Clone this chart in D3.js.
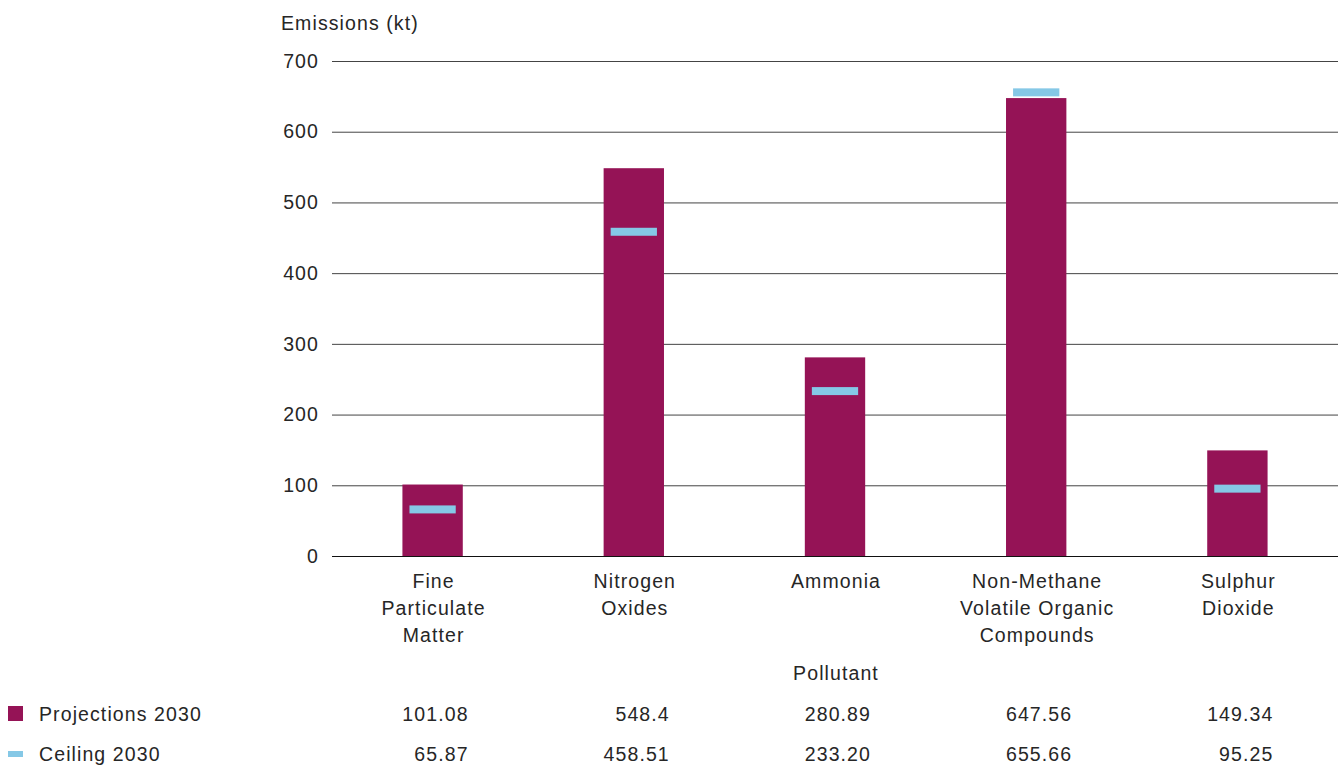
<!DOCTYPE html>
<html>
<head>
<meta charset="utf-8">
<script src="https://cdn.jsdelivr.net/npm/d3@7"></script>
<style>
  body { margin: 0; background: #fff; }
  text { font-family: "Liberation Sans", Arial, sans-serif; fill: #262626; letter-spacing: 1.1px; }
</style>
</head>
<body>
<div id="chart"></div>
<script>
var pollutants = ["Fine Particulate Matter", "Nitrogen Oxides", "Ammonia", "Non-Methane Volatile Organic Compounds", "Sulphur Dioxide"];
var pollutantLines = [["Fine", "Particulate", "Matter"], ["Nitrogen", "Oxides"], ["Ammonia"], ["Non-Methane", "Volatile Organic", "Compounds"], ["Sulphur", "Dioxide"]];
var projections = [101.08, 548.4, 280.89, 647.56, 149.34];
var ceilings = [65.87, 458.51, 233.20, 655.66, 95.25];
var projectionLabels = ["101.08", "548.4", "280.89", "647.56", "149.34"];
var ceilingLabels = ["65.87", "458.51", "233.20", "655.66", "95.25"];
var yTicks = [0, 100, 200, 300, 400, 500, 600, 700];

var W = 1343, H = 765;
var margin = { top: 61, right: 5, bottom: 209, left: 332 };
var width = W - margin.left - margin.right,
    height = H - margin.top - margin.bottom;

var barColor = "#951356", ceilColor = "#85c8e6";
var fs = "19.5px";

var svg = d3.select("#chart").append("svg")
    .attr("width", W).attr("height", H);

var g = svg.append("g")
    .attr("transform", "translate(" + margin.left + "," + margin.top + ")");

var x = d3.scaleBand().domain(pollutants).range([0, width]).padding(0);
var y = d3.scaleLinear().domain([0, 700]).range([height, 0]);

// gridlines + y labels
var yAxis = g.append("g")
    .call(d3.axisLeft(y).tickValues(yTicks).tickSize(0).tickPadding(13));
yAxis.select(".domain").remove();
yAxis.selectAll("text").style("font-size", fs).attr("fill", "#262626")
    .style("font-family", "Liberation Sans, Arial, sans-serif");
g.append("g").selectAll("line")
    .data(yTicks)
    .enter().append("line")
    .attr("x1", 0).attr("x2", width)
    .attr("y1", function(d) { return y(d) + 0.5; })
    .attr("y2", function(d) { return y(d) + 0.5; })
    .attr("stroke", function(d) { return d == 0 ? "#111" : "#444"; })
    .attr("stroke-width", 1);

// bars
var bw = x.bandwidth() * 0.3;
g.selectAll(".bar")
    .data(pollutants)
    .enter().append("rect")
    .attr("class", "bar")
    .attr("x", function(d) { return x(d) + x.bandwidth() / 2 - bw / 2; })
    .attr("width", bw)
    .attr("y", function(d, i) { return y(projections[i]); })
    .attr("height", function(d, i) { return y(0) - y(projections[i]); })
    .attr("fill", barColor);

// ceiling markers
var cw = x.bandwidth() * 0.23;
g.selectAll(".ceil")
    .data(pollutants)
    .enter().append("rect")
    .attr("class", "ceil")
    .attr("x", function(d) { return x(d) + x.bandwidth() / 2 - cw / 2; })
    .attr("width", cw)
    .attr("y", function(d, i) { return y(ceilings[i]) - 4; })
    .attr("height", 8)
    .attr("fill", ceilColor);

// category labels
var cat = g.selectAll(".cat")
    .data(pollutants)
    .enter().append("text")
    .attr("class", "cat")
    .attr("text-anchor", "middle")
    .style("font-size", fs);
cat.each(function(d, i) {
    var t = d3.select(this);
    pollutantLines[i].forEach(function(line, j) {
        t.append("tspan")
            .attr("x", x(d) + x.bandwidth() / 2 + 1)
            .attr("y", height + 32 + j * 27)
            .text(line);
    });
});

// axis titles
g.append("text")
    .attr("x", width / 2 + 1).attr("y", height + 124)
    .attr("text-anchor", "middle")
    .style("font-size", fs)
    .text("Pollutant");
svg.append("text")
    .attr("x", 281).attr("y", 30)
    .style("font-size", fs)
    .text("Emissions (kt)");

// legend / data table
var rows = [
    { name: "Projections 2030", labels: projectionLabels, y: 721 },
    { name: "Ceiling 2030", labels: ceilingLabels, y: 761 }
];
rows.forEach(function(r, k) {
    if (k == 0) {
        svg.append("rect").attr("x", 8).attr("y", r.y - 15).attr("width", 15).attr("height", 15).attr("fill", barColor);
    } else {
        svg.append("rect").attr("x", 8).attr("y", r.y - 10).attr("width", 15).attr("height", 6).attr("fill", ceilColor);
    }
    svg.append("text").attr("x", 39).attr("y", r.y)
        .style("font-size", fs).text(r.name);
    svg.selectAll(".v" + k)
        .data(pollutants)
        .enter().append("text")
        .attr("x", function(d) { return margin.left + x(d) + x.bandwidth() / 2 + 36; })
        .attr("y", r.y)
        .attr("text-anchor", "end")
        .style("font-size", fs)
        .text(function(d, i) { return r.labels[i]; });
});
</script>
</body>
</html>
